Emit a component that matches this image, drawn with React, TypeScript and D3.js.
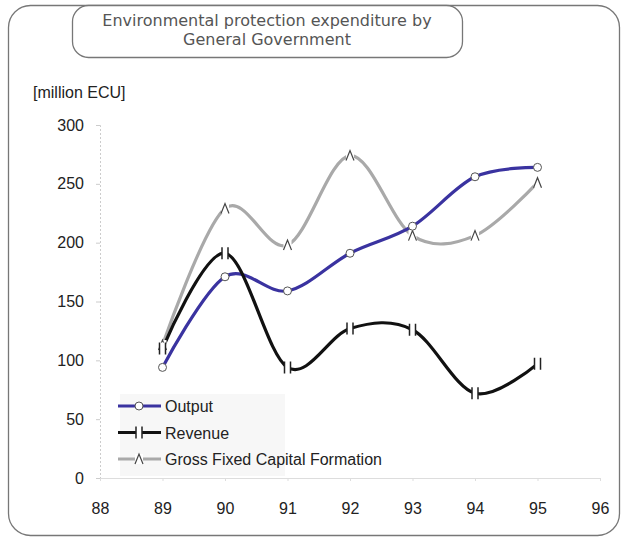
import React, { useRef, useEffect } from "react";
import * as d3 from "d3";

// years on the x axis and the three series (million ECU)
const years = [89, 90, 91, 92, 93, 94, 95];
const output = [94, 171, 159, 191, 214, 256, 264];
const revenue = [110, 191, 94, 127, 126, 72, 97];
const grossFixed = [113, 229, 198, 274, 206, 206, 251];
const xTicks = [88, 89, 90, 91, 92, 93, 94, 95, 96];
const yTicks = [0, 50, 100, 150, 200, 250, 300];

const seriesNames = ["Output", "Revenue", "Gross Fixed Capital Formation"];
const titleLines = ["Environmental protection expenditure by", "General Government"];

const App = () => {
  const container = useRef<SVGSVGElement | null>(null);

  const width = 624;
  const height = 538;

  useEffect(() => {
    const svg = d3.select(container.current);
    svg.selectAll("*").remove();

    const left = 100;
    const right = 600;
    const top = 125;
    const bottom = 478;

    const x = d3.scaleLinear().domain([88, 96]).range([left, right]);
    const y = d3.scaleLinear().domain([0, 300]).range([bottom, top]);

    // outer frame
    svg
      .append("rect")
      .attr("x", 8.5)
      .attr("y", 5.5)
      .attr("width", 611)
      .attr("height", 530)
      .attr("rx", 22)
      .style("fill", "white")
      .style("stroke", "#777")
      .style("stroke-width", 1.3);

    // title box
    svg
      .append("rect")
      .attr("x", 72.5)
      .attr("y", 5.5)
      .attr("width", 390)
      .attr("height", 52)
      .attr("rx", 16)
      .style("fill", "white")
      .style("stroke", "#777")
      .style("stroke-width", 1.3);

    svg
      .append("g")
      .selectAll("text")
      .data(titleLines)
      .enter()
      .append("text")
      .attr("x", 267)
      .attr("y", (d, i) => 26 + i * 19)
      .attr("text-anchor", "middle")
      .style("font-family", "'DejaVu Sans', sans-serif")
      .style("font-size", "16px")
      .style("fill", "#555")
      .text((d) => d);

    // unit label
    svg
      .append("text")
      .attr("x", 33)
      .attr("y", 98)
      .style("font-family", "'Liberation Sans', Arial, sans-serif")
      .style("font-size", "16px")
      .style("fill", "#222")
      .text("[million ECU]");

    // axes
    const yAxis = d3
      .axisLeft(y)
      .tickValues(yTicks)
      .tickSize(4)
      .tickPadding(12);
    const gy = svg.append("g").attr("transform", `translate(${left},0)`).call(yAxis);
    gy.select(".domain").style("stroke", "#ccc").style("stroke-dasharray", "2,2");
    gy.selectAll(".tick line").style("stroke", "#ccc");
    gy.selectAll("text")
      .style("font-family", "'Liberation Sans', Arial, sans-serif")
      .style("font-size", "16px")
      .style("fill", "#222");

    const xAxis = d3
      .axisBottom(x)
      .tickValues(xTicks)
      .tickSize(3)
      .tickPadding(22)
      .tickSizeOuter(0);
    const gx = svg.append("g").attr("transform", `translate(0,${bottom})`).call(xAxis);
    gx.select(".domain").style("stroke", "#ddd");
    gx.selectAll(".tick line").style("stroke", "#ddd");
    gx.selectAll("text")
      .style("font-family", "'Liberation Sans', Arial, sans-serif")
      .style("font-size", "16px")
      .style("fill", "#222");

    const line = d3
      .line<number>()
      .x((d, i) => x(years[i]))
      .y((d) => y(d))
      .curve(d3.curveCatmullRom.alpha(0));

    const colors = ["#3a33a0", "#111111", "#a9a9a9"];
    const allSeries = [grossFixed, output, revenue];
    const allColors = [colors[2], colors[0], colors[1]];

    // legend background
    svg
      .append("rect")
      .attr("x", 120)
      .attr("y", 394)
      .attr("width", 165)
      .attr("height", 82)
      .style("fill", "#f7f7f7");

    allSeries.forEach((s, k) => {
      svg
        .append("path")
        .datum(s)
        .attr("d", line)
        .style("fill", "none")
        .style("stroke", allColors[k])
        .style("stroke-width", 3.2);
    });

    // markers
    const drawCircle = (g, cx, cy) => {
      g.append("circle")
        .attr("cx", cx)
        .attr("cy", cy)
        .attr("r", 4)
        .style("fill", "white")
        .style("stroke", "#555")
        .style("stroke-width", 1);
    };
    const drawBar = (g, cx, cy) => {
      g.append("rect")
        .attr("x", cx - 3)
        .attr("y", cy - 6)
        .attr("width", 6)
        .attr("height", 12)
        .style("fill", "white");
      g.append("path")
        .attr("d", `M${cx - 3},${cy - 6}V${cy + 6}M${cx + 3},${cy - 6}V${cy + 6}`)
        .style("stroke", "#222")
        .style("stroke-width", 1.5);
    };
    const drawCaret = (g, cx, cy) => {
      g.append("rect")
        .attr("x", cx - 4)
        .attr("y", cy - 5)
        .attr("width", 8)
        .attr("height", 10)
        .style("fill", "white");
      g.append("path")
        .attr("d", `M${cx - 4},${cy + 5}L${cx},${cy - 5}L${cx + 4},${cy + 5}`)
        .style("fill", "none")
        .style("stroke", "#444")
        .style("stroke-width", 1.2);
    };

    const mk = svg.append("g");
    grossFixed.forEach((v, i) => drawCaret(mk, x(years[i]), y(v)));
    revenue.forEach((v, i) => drawBar(mk, x(years[i]), y(v)));
    output.forEach((v, i) => drawCircle(mk, x(years[i]), y(v)));

    // legend
    const legend = svg.append("g").attr("transform", "translate(118,406)");
    const drawers = [drawCircle, drawBar, drawCaret];
    seriesNames.forEach((name, i) => {
      const ly = i * 26.5;
      legend
        .append("line")
        .attr("x1", 0)
        .attr("x2", 43)
        .attr("y1", ly)
        .attr("y2", ly)
        .style("stroke", colors[i])
        .style("stroke-width", 3.2);
      drawers[i](legend, 21, ly);
      legend
        .append("text")
        .attr("x", 47)
        .attr("y", ly + 6)
        .style("font-family", "'Liberation Sans', Arial, sans-serif")
        .style("font-size", "16px")
        .style("fill", "#222")
        .text(name);
    });
  }, []);

  return (
    <div style={{ position: "absolute", left: 0, top: 0, width: width, height: height, overflow: "hidden" }}>
      <svg ref={container} width={width} height={height} style={{ display: "block" }} />
    </div>
  );
};

export default App;
